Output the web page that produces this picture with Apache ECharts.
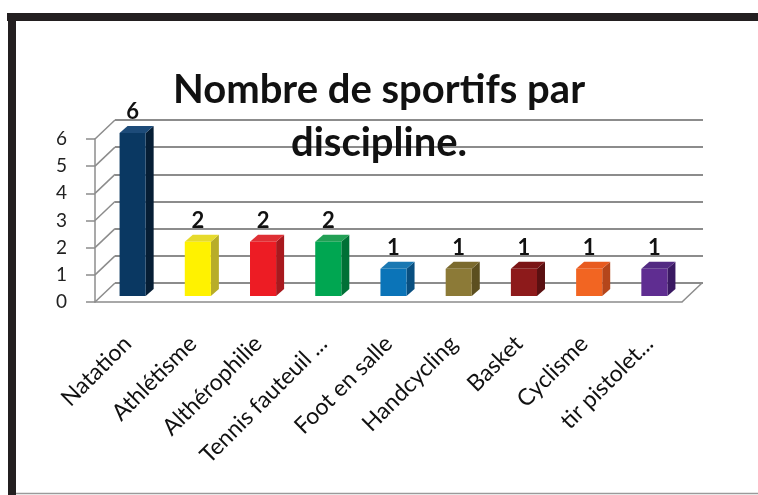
<!DOCTYPE html>
<html>
<head>
<meta charset="utf-8">
<script src="https://cdn.jsdelivr.net/npm/echarts@6/dist/echarts.min.js"></script>
<style>
  html, body { margin: 0; padding: 0; background: #fff; }
  #chart { width: 758px; height: 495px; }
</style>
</head>
<body>
<div id="chart"></div>
<script>
// données du graphique
var categories = ['Natation', 'Athlétisme', 'Althérophilie', 'Tennis fauteuil ...', 'Foot en salle', 'Handcycling', 'Basket', 'Cyclisme', 'tir pistolet...'];
var sportifs = [6, 2, 2, 2, 1, 1, 1, 1, 1];
var yTicks = [0, 1, 2, 3, 4, 5, 6];

// couleurs des barres (face avant, côté, dessus)
var faceColors = ['#0a3862', '#fff200', '#ed1c24', '#00a651', '#0b74b8', '#8c7a37', '#8d1a1b', '#f26522', '#5f2d91'];
var sideColors = ['#061e35', '#b8ad28', '#a8191e', '#007036', '#094f80', '#5c4f1f', '#5a1011', '#b4461b', '#3a1962'];
var topColors = ['#1d4b79', '#e6da2c', '#df3035', '#22a055', '#1a78b2', '#7b6a2e', '#7b1516', '#e85b20', '#522a82'];

var DX = 20, DY = 19; // décalage du fond (effet 3D)
var gridColor = '#8c8c8c';

var myChart = echarts.init(document.getElementById('chart'));

function renderBar(params, api) {
  var i = api.value(0);
  var v = api.value(1);
  var base = api.coord([i, 0]);
  var top = api.coord([i, v]);
  var bw = api.size([1, 0])[0] * 0.4;
  var d = 8, dh = 7;
  var x0 = base[0] + 5 - bw / 2, x1 = x0 + bw;
  var y0 = base[1] - 6, y1 = top[1] - 6;
  return {
    type: 'group',
    children: [
      { type: 'polygon', shape: { points: [[x1, y0], [x1 + d, y0 - dh], [x1 + d, y1 - dh], [x1, y1]] }, style: { fill: sideColors[i] } },
      { type: 'polygon', shape: { points: [[x0, y1], [x1, y1], [x1 + d, y1 - dh], [x0 + d, y1 - dh]] }, style: { fill: topColors[i] } },
      { type: 'rect', shape: { x: x0, y: y1, width: bw, height: y0 - y1 }, style: { fill: faceColors[i] } },
      { type: 'text', style: { text: String(v), x: x0 + bw / 2, y: y1 - 10, align: 'center', verticalAlign: 'bottom',
        fontFamily: 'Lato', fontWeight: 'bold', fontSize: 22, fill: '#111' } }
    ]
  };
}

function renderDepth(params, api) {
  var cs = params.coordSys;
  var v = api.value(1);
  var y = api.coord([0, v])[1];
  var lines = [{ type: 'line', shape: { x1: cs.x, y1: y, x2: cs.x + DX, y2: y - DY }, style: { stroke: gridColor, lineWidth: 1.5 } }];
  if (v === 0) {
    lines.push({ type: 'line', shape: { x1: cs.x + cs.width, y1: y, x2: cs.x + cs.width + DX, y2: y - DY }, style: { stroke: gridColor, lineWidth: 1.5 } });
  }
  return { type: 'group', children: lines };
}

var option = {
  animation: false,
  backgroundColor: '#fff',
  title: {
    text: 'Nombre de sportifs par\ndiscipline.',
    left: 'center',
    top: 59,
    textStyle: { fontFamily: 'Lato', fontWeight: 'bold', fontSize: 40, lineHeight: 53, color: '#111' }
  },
  graphic: [
    { type: 'rect', shape: { x: 7, y: 13, width: 760, height: 8 }, style: { fill: '#231f20' }, z: 10 },
    { type: 'rect', shape: { x: 8, y: 13, width: 8, height: 490 }, style: { fill: '#231f20' }, z: 10 },
    { type: 'line', shape: { x1: 16, y1: 493.5, x2: 758, y2: 493.5 }, style: { stroke: '#9a9a9a', lineWidth: 1.5 }, z: 10 }
  ],
  grid: [
    { left: 95, top: 139, width: 587, height: 163 },
    { left: 95 + DX, top: 139 - DY, width: 588, height: 163 }
  ],
  xAxis: [
    {
      type: 'category', gridIndex: 0, data: categories,
      axisLine: { lineStyle: { color: gridColor, width: 1.5 } },
      axisTick: { length: 8, lineStyle: { color: gridColor, width: 1.5 } },
      axisLabel: { interval: 0, rotate: 45, margin: 38, color: '#111', fontFamily: 'Lato', fontSize: 23 }
    },
    { type: 'category', gridIndex: 1, data: categories, show: false }
  ],
  yAxis: [
    {
      type: 'value', gridIndex: 0, min: 0, max: 6, interval: 1,
      axisLine: { show: true, lineStyle: { color: gridColor, width: 1.5 } },
      axisTick: { show: true, length: 9, lineStyle: { color: gridColor, width: 1.5 } },
      axisLabel: { margin: 28, color: '#222', fontFamily: 'Lato', fontSize: 19,
        formatter: function (v) { return yTicks.indexOf(v) >= 0 ? String(v) : ''; } },
      splitLine: { show: false }
    },
    {
      type: 'value', gridIndex: 1, min: 0, max: 6, interval: 1,
      axisLine: { show: false }, axisTick: { show: false }, axisLabel: { show: false },
      splitLine: { show: true, lineStyle: { color: gridColor, width: 2 } }
    }
  ],
  series: [
    {
      type: 'custom', xAxisIndex: 0, yAxisIndex: 0, z: 2,
      renderItem: renderDepth,
      data: yTicks.map(function (v) { return [0, v]; })
    },
    {
      type: 'custom', xAxisIndex: 0, yAxisIndex: 0, z: 5,
      renderItem: renderBar,
      encode: { x: 0, y: 1 },
      data: sportifs.map(function (v, i) { return [i, v]; })
    }
  ]
};

myChart.setOption(option);
</script>
</body>
</html>
